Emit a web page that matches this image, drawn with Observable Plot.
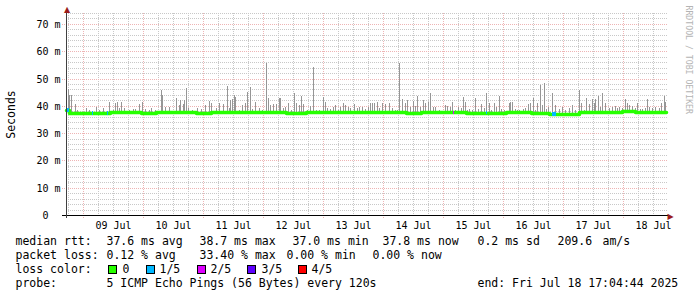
<!DOCTYPE html>
<html><head><meta charset="utf-8">
<script src="https://cdn.jsdelivr.net/npm/d3@7"></script>
<script src="https://cdn.jsdelivr.net/npm/@observablehq/plot@0.6"></script>
<style>
html,body{margin:0;padding:0;background:#fff;}
body{width:697px;height:297px;overflow:hidden;position:relative;font-family:"DejaVu Sans Mono",monospace;}
#chart{position:absolute;left:0;top:0;}
.t{position:absolute;font-size:11.5px;line-height:14px;white-space:pre;color:#000;}
.sw{position:absolute;width:9px;height:9px;box-sizing:border-box;border:1px solid #000;}
</style></head><body>
<div id="chart"></div>
<div id="legend"></div>
<script>
// ---------- data ----------
const startTime = "2025-07-08T17:04:44Z";
const endTime = "2025-07-18T17:04:44Z";
const yTickValues = [0, 10, 20, 30, 40, 50, 60, 70];
const yTickLabels = ["0", "10 m", "20 m", "30 m", "40 m", "50 m", "60 m", "70 m"];
const dayLabelTimes = ["2025-07-09T12:00:00Z","2025-07-10T12:00:00Z","2025-07-11T12:00:00Z","2025-07-12T12:00:00Z","2025-07-13T12:00:00Z","2025-07-14T12:00:00Z","2025-07-15T12:00:00Z","2025-07-16T12:00:00Z","2025-07-17T12:00:00Z","2025-07-18T12:00:00Z"];
const dayLabels = ["09 Jul","10 Jul","11 Jul","12 Jul","13 Jul","14 Jul","15 Jul","16 Jul","17 Jul","18 Jul"];

// smoke spikes: [hours since start, max rtt in ms]
const smokeSpikes = [
[0.8,46.1],[1.3,44.0],[2.1,44.0],[3.7,40.6],[4.3,38.5],[8.0,39.3],[9.1,38.5],[12.0,39.7],[13.3,38.5],[14.8,39.3],
[17.3,41.5],[18.7,38.5],[19.7,40.9],[20.4,41.5],[21.3,39.3],[22.1,41.5],[23.3,39.1],[25.1,38.5],[26.7,38.7],[27.7,38.7],
[29.3,40.6],[30.4,41.5],[31.7,38.7],[33.3,38.5],[34.1,39.3],[35.7,38.5],[38.0,45.8],[38.4,44.0],[39.7,39.7],[41.3,39.7],
[44.0,42.8],[45.1,40.3],[45.7,42.1],[46.7,40.6],[47.3,42.1],[48.1,46.4],[48.8,39.1],[50.4,38.5],[52.4,39.1],[54.1,38.7],
[55.7,40.3],[57.1,41.8],[58.1,40.9],[60.0,39.1],[61.3,41.2],[62.7,40.6],[64.4,47.3],[65.1,39.1],[65.7,42.1],[66.4,42.4],
[67.1,44.0],[67.7,43.4],[69.1,38.5],[70.4,40.3],[71.7,40.9],[72.5,45.2],[73.7,47.0],[74.4,38.7],[75.7,41.5],[77.1,39.1],
[78.4,38.5],[80.0,55.6],[80.8,42.8],[81.7,40.3],[82.7,40.6],[84.0,40.6],[85.1,42.8],[85.5,42.8],[86.7,39.1],[87.7,39.7],
[88.8,41.2],[90.1,38.5],[91.2,44.6],[92.1,41.2],[93.1,40.3],[94.1,43.6],[94.7,40.6],[96.4,38.5],[97.7,39.9],[98.8,54.4],
[100.1,38.5],[101.3,38.5],[102.8,43.4],[103.5,41.5],[104.4,39.1],[105.7,38.7],[106.7,39.7],[107.5,40.3],[108.8,38.5],[109.7,39.7],
[110.7,40.9],[111.7,40.3],[112.8,39.7],[113.7,39.1],[115.1,40.6],[116.4,39.1],[117.3,39.7],[118.4,39.7],[119.7,38.7],[120.8,39.7],
[121.7,41.2],[122.4,41.2],[123.1,40.9],[124.4,41.5],[125.3,39.1],[126.4,41.2],[127.5,40.6],[129.1,41.2],[130.4,39.1],[131.5,38.5],
[132.4,38.5],[133.3,55.8],[134.4,42.4],[135.5,41.2],[136.4,42.1],[137.7,39.7],[138.7,41.8],[139.7,39.9],[140.4,43.6],[141.7,39.7],
[142.7,42.1],[143.5,41.2],[144.8,41.5],[145.7,44.8],[146.7,39.7],[147.7,39.7],[149.1,38.5],[151.5,40.3],[152.5,39.9],[153.5,39.7],
[154.4,41.5],[155.7,38.5],[156.8,39.7],[157.9,39.1],[158.9,43.4],[159.7,41.5],[160.3,38.5],[161.3,38.7],[162.4,38.5],[163.7,42.8],
[164.8,38.7],[166.1,40.6],[167.1,39.1],[168.1,44.8],[169.1,41.2],[170.1,38.5],[171.1,40.9],[172.1,39.7],[173.1,43.6],[174.1,38.7],
[175.1,38.5],[177.1,41.2],[177.7,41.5],[178.4,41.5],[179.5,38.7],[180.4,38.5],[181.3,38.5],[182.8,38.7],[183.7,39.1],[184.7,40.6],
[185.7,41.2],[186.7,42.8],[187.5,38.5],[188.4,40.9],[189.5,47.6],[190.4,40.3],[191.1,48.3],[192.0,38.7],[192.8,39.7],[194.4,44.6],
[195.7,40.3],[197.1,38.7],[198.4,39.7],[199.7,38.5],[201.1,39.1],[202.4,40.3],[203.7,38.5],[205.3,45.8],[206.1,40.9],[207.1,38.5],
[208.0,42.8],[209.1,40.6],[210.4,42.4],[211.1,40.9],[211.7,42.4],[212.8,43.6],[213.7,39.7],[214.4,44.6],[215.7,40.9],[217.1,39.1],
[218.4,39.7],[219.5,39.9],[220.4,39.1],[221.1,39.7],[222.4,39.1],[223.7,42.4],[224.4,40.9],[225.3,40.3],[226.4,39.9],[227.5,39.1],
[228.4,40.9],[229.5,38.7],[230.4,38.7],[231.5,39.1],[232.4,42.4],[233.3,39.7],[234.4,39.1],[235.7,39.7],[237.1,39.1],[238.1,41.2],
[239.1,43.6],[239.7,41.5]
];
const smokeFloor = 37.3;

// median rtt: [hours since start, ms]
const medianRtt = [
[0,38.4],[1.2,37.3],[17.6,37.6],[30,37.5],[36,37.6],[52,37.5],[58,37.7],[70,37.6],[88,37.5],[96,37.6],
[110,37.7],[120,37.6],[136,37.5],[142,37.6],[160,37.5],[176,37.6],[186,37.4],[191,37.2],[193,36.9],[195.5,37.1],
[205,37.7],[222.4,38.1],[227.6,37.8],[232,37.7],[240,37.8]
];

// loss events: [start hour, end hour, ms, lost pings of 5]
const lossEvents = [
[0,1.2,38.4,1],[10.2,10.8,37.3,1],[16.2,16.8,37.3,1],[154.6,155.2,37.6,2],[167.8,168.4,37.6,1],[194.2,196.0,37.0,1]
];

const lossColors = ["#26ff00","#00b8ff","#dd00ff","#5e00ff","#ff0000"];
const lossLabels = ["0","1/5","2/5","3/5","4/5"];

const line1 = ["median rtt:","37.6 ms avg","38.7 ms max","37.0 ms min","37.8 ms now","0.2 ms sd","209.6","am/s"];
const line2 = ["packet loss:","0.12 % avg","33.40 % max","0.00 % min","0.00 % now"];
const line3 = ["loss color:"];
const line4 = ["probe:","5 ICMP Echo Pings (56 Bytes) every 120s","end: Fri Jul 18 17:04:44 2025"];
const axisTitle = "Seconds";
const sideCredit = "RRDTOOL / TOBI OETIKER";

// ---------- build ----------
const t0 = new Date(startTime), t1 = new Date(endTime);
const at = h => new Date(+t0 + h * 3600e3);
const smoke = smokeSpikes.map(([h, v]) => ({t: at(h), lo: smokeFloor, hi: v}));
const median = medianRtt.map(([h, v]) => ({t: at(h), v}));
const loss = lossEvents.map(([a, b, v, n]) => ({a: at(a), b: at(b), v, n}));
const dayMap = new Map(dayLabelTimes.map((d, i) => [+new Date(d), dayLabels[i]]));
const yMap = new Map(yTickValues.map((v, i) => [v, yTickLabels[i]]));

const majorDays = d3.utcDay.range(t0, t1);
const minorHours = d3.utcHour.every(6).range(t0, t1).filter(d => d.getUTCHours() !== 0);
const majorY = yTickValues.filter(v => v > 0);
const minorY = d3.range(2, 75, 2).filter(v => v % 10 !== 0);
const arrowColor = "#9b1c1c";

const chart = Plot.plot({
  width: 697, height: 232,
  marginLeft: 66, marginRight: 31, marginTop: 13, marginBottom: 17,
  style: {fontFamily: "'DejaVu Sans Mono', monospace", fontSize: "10px", background: "#fff", color: "#000"},
  x: {type: "utc", domain: [t0, t1], round: true},
  y: {domain: [0, 74], round: true},
  marks: [
    Plot.ruleY(minorY, {stroke: "#c8c8c8", strokeDasharray: "1,1", strokeWidth: 1, insetRight: -2}),
    Plot.ruleX(minorHours, {stroke: "#c8c8c8", strokeDasharray: "1,1", strokeWidth: 1}),
    Plot.ruleY(majorY, {stroke: "#eeb4b4", strokeDasharray: "1,1", strokeWidth: 1, insetLeft: -4, insetRight: -2}),
    Plot.ruleX(majorDays, {stroke: "#eeb4b4", strokeDasharray: "1,1", strokeWidth: 1, insetBottom: -3}),
    Plot.ruleX(smoke, {x: "t", y1: "lo", y2: "hi", stroke: "#969696", strokeWidth: 1}),
    Plot.line(median, {x: "t", y: "v", curve: "step-after", stroke: lossColors[0], strokeWidth: 3.5}),
    Plot.rect(loss, {x1: "a", x2: "b", y1: d => d.v - 0.65, y2: d => d.v + 0.65, fill: d => lossColors[d.n]}),
    Plot.ruleY([0], {stroke: "#000", insetLeft: -4, insetRight: -2}),
    Plot.ruleX([t0], {stroke: "#404040", insetTop: -3, insetBottom: -3}),
    Plot.text(["\u25B2"], {text: d => d, frameAnchor: "top-left", dx: 0.5, dy: -4, fontSize: 8, fill: arrowColor, fontFamily: "DejaVu Sans", textAnchor: "middle", lineAnchor: "middle"}),
    Plot.text(["\u25B6"], {text: d => d, frameAnchor: "bottom-right", dx: 4, dy: 0.5, fontSize: 8, fill: arrowColor, fontFamily: "DejaVu Sans", textAnchor: "middle", lineAnchor: "middle"}),
    Plot.axisY(yTickValues, {tickSize: 0, tickPadding: 6, label: null, fontSize: 10,
      tickFormat: v => { const s = yMap.get(v); return s.includes(" m") ? s : s + "\u00a0\u00a0"; }}),
    Plot.axisX(dayLabelTimes.map(d => new Date(d)), {tickSize: 0, tickPadding: 6, label: null, fontSize: 10,
      tickFormat: d => dayMap.get(+d)}),
    Plot.text([axisTitle], {text: d => d, frameAnchor: "left", dx: -55, rotate: -90, fontSize: 11.5, fill: "#000", textAnchor: "middle", lineAnchor: "middle"}),
    Plot.text([sideCredit], {text: d => d, frameAnchor: "top-right", dx: 22, dy: -8, rotate: 90, fontSize: 8.2, fill: "#b4b4b4", textAnchor: "start", lineAnchor: "middle"})
  ]
});
document.getElementById("chart").appendChild(chart);

// ---------- legend below ----------
const legend = document.getElementById("legend");
function put(text, x, baseline) {
  const s = document.createElement("span");
  s.className = "t"; s.textContent = text;
  s.style.left = (x - 0.5) + "px"; s.style.top = (baseline - 11) + "px";
  legend.appendChild(s);
}
const x1 = [16, 107, 200, 293, 383, 478, 558, 603];
line1.forEach((t, i) => put(t, x1[i], 245));
const x2 = [16, 107, 200, 287, 373];
line2.forEach((t, i) => put(t, x2[i], 259));
put(line3[0], 16, 273);
const swX = [108, 146, 197, 247, 298], labX = [123, 160, 211, 262, 312];
lossLabels.forEach((lab, i) => {
  const b = document.createElement("div");
  b.className = "sw"; b.style.left = swX[i] + "px"; b.style.top = "265px"; b.style.background = lossColors[i];
  legend.appendChild(b);
  put(lab, labX[i], 273);
});
const x4 = [16, 107, 478];
line4.forEach((t, i) => put(t, x4[i], 287));
</script>
</body></html>
